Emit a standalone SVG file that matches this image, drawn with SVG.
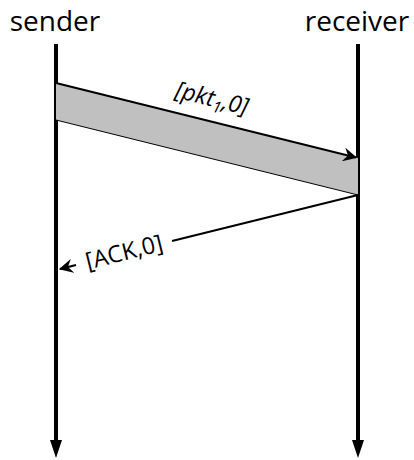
<svg xmlns="http://www.w3.org/2000/svg" width="414" height="460" viewBox="0 0 414 460">
<style>
.t{font-family:"Open Sans","Noto Sans",sans-serif;fill:#000}
.life{stroke:#000;stroke-width:4;fill:none}
.msg{stroke:#000;stroke-width:2;fill:none}
</style>
<defs>
<marker id="open" viewBox="0 0 12 12" refX="11" refY="6" markerWidth="14" markerHeight="14" markerUnits="userSpaceOnUse" orient="auto">
<path d="M0,0 L12,6 L0,12 L4,6 Z" fill="#000"/>
</marker>
</defs>
<g id="sender">
<text class="t" x="55" y="31" font-size="28" text-anchor="middle">sender</text>
<line class="life" x1="56" y1="44" x2="56" y2="444"/>
<path d="M50,440 L62,440 L56,458 Z" fill="#000"/>
</g>
<g id="receiver">
<text class="t" x="357" y="31" font-size="28" text-anchor="middle">receiver</text>
<line class="life" x1="358" y1="44" x2="358" y2="444"/>
<path d="M352,440 L364,440 L358,458 Z" fill="#000"/>
</g>
<g id="connectors">
<path d="M56,83 L358,158 L358,195 L56,120 Z" fill="#c0c0c0" stroke="none"/>
<line x1="56" y1="120" x2="358" y2="195" stroke="#000" stroke-width="1"/>
<line class="msg" x1="56" y1="83" x2="356" y2="157.5" marker-end="url(#open)"/>
<text class="t" font-size="23.5" font-style="italic" text-anchor="middle" transform="translate(210,106) rotate(13.9)">[pkt<tspan font-size="16" dy="5">1</tspan><tspan dy="-5">,0]</tspan></text>
<line class="msg" x1="358" y1="195" x2="172" y2="241"/>
<line class="msg" x1="76" y1="265" x2="60" y2="269" marker-end="url(#open)"/>
<text class="t" font-size="23.5" text-anchor="middle" transform="translate(126,260) rotate(-13.9)">[ACK,0]</text>
</g>
</svg>
